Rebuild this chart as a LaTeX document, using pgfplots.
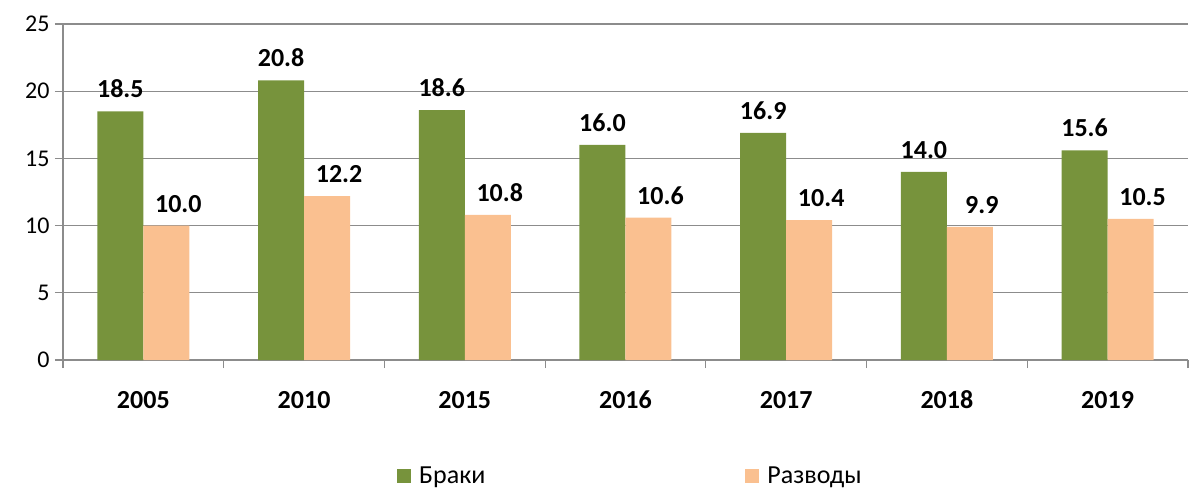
\documentclass[border=0pt]{standalone}
\usepackage{pgfplots}
\pgfplotsset{compat=1.18}
\usepackage{fontspec}
\setmainfont{Carlito}
\definecolor{brak}{HTML}{77933C}
\definecolor{razv}{HTML}{FAC090}
\definecolor{gridc}{HTML}{8C8C8C}
\begin{document}
\begin{tikzpicture}[x=1pt,y=1pt]
\useasboundingbox (0,0) rectangle (1193,491);
\begin{axis}[
  at={(63pt,131pt)}, anchor=south west,
  scale only axis, width=1125pt, height=336pt,
  ybar=0pt, bar width=46pt,
  xmin=-0.5, xmax=6.5, ymin=0, ymax=25,
  ytick={0,5,...,25},
  xtick={0,...,6},
  xticklabels={2005,2010,2015,2016,2017,2018,2019},
  minor xtick={-0.5,0.5,...,6.5},
  major x tick style={draw=none},
  minor tick length=8pt,
  major tick length=8pt,
  tick align=outside,
  axis lines*=left,
  axis line style={gridc, line width=1.2pt},
  every tick/.style={gridc, line width=1.2pt},
  ymajorgrids, major grid style={gridc, line width=1.2pt},
  /pgf/number format/assume math mode=true,
  yticklabel style={font=\fontsize{24}{28}\selectfont, xshift=-2pt},
  xticklabel style={font=\fontsize{26}{30}\selectfont\bfseries, anchor=north, text height=17pt, text depth=0pt, yshift=-20pt},
  nodes near coords,
  nodes near coords style={font=\fontsize{26}{30}\selectfont\bfseries, /pgf/number format/fixed, /pgf/number format/fixed zerofill, /pgf/number format/precision=1},
  every node near coord/.append style={anchor=south, text height=17pt, text depth=0pt, yshift=10pt},
  legend columns=2,
  legend style={draw=none, at={(0.5044,-0.305)}, anchor=north, font=\fontsize{26}{30}\selectfont,
    /tikz/every odd column/.append style={column sep=6pt},
    /tikz/every even column/.append style={column sep=258pt}},
  legend image code/.code={\fill[#1] (0pt,-7pt) rectangle (14pt,7pt);},
  clip=false,
]
\addplot[fill=brak, draw=none] coordinates {(0,18.5) (1,20.8) (2,18.6) (3,16.0) (4,16.9) (5,14.0) (6,15.6)};
\addplot[fill=razv, draw=none, every node near coord/.append style={xshift=12pt}] coordinates {(0,10.0) (1,12.2) (2,10.8) (3,10.6) (4,10.4) (5,9.9) (6,10.5)};
\legend{Браки, Разводы}
\end{axis}
\end{tikzpicture}
\end{document}
